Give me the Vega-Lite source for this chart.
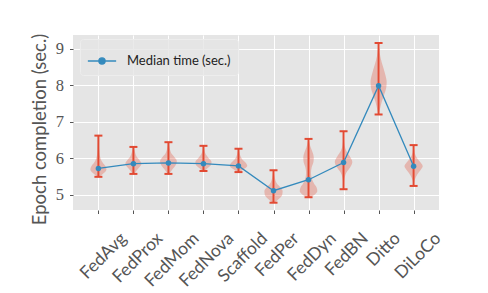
{
  "$schema": "https://vega.github.io/schema/vega-lite/v6.json",
  "width": 366,
  "height": 175,
  "autosize": {"type": "none"},
  "padding": {"left": 73, "top": 35, "right": 49, "bottom": 83},
  "background": "white",
  "config": {
    "view": {"fill": "#E5E5E5", "stroke": null},
    "axis": {
      "grid": true, "gridColor": "white", "gridWidth": 1,
      "domain": false,
      "tickColor": "#555555", "tickSize": 3.5, "tickWidth": 1,
      "labelColor": "#555555", "titleColor": "#555555"
    }
  },
  "datasets": {
    "violin": [
      {"m":0,"y":5.49,"lo":-0.02,"hi":0.02},{"m":0,"y":5.55,"lo":-0.10,"hi":0.10},{"m":0,"y":5.62,"lo":-0.19,"hi":0.19},{"m":0,"y":5.70,"lo":-0.23,"hi":0.23},{"m":0,"y":5.78,"lo":-0.20,"hi":0.20},{"m":0,"y":5.88,"lo":-0.12,"hi":0.12},{"m":0,"y":6.00,"lo":-0.06,"hi":0.06},{"m":0,"y":6.15,"lo":-0.03,"hi":0.03},{"m":0,"y":6.35,"lo":-0.015,"hi":0.015},{"m":0,"y":6.62,"lo":-0.005,"hi":0.005},
      {"m":1,"y":5.57,"lo":0.98,"hi":1.02},{"m":1,"y":5.65,"lo":0.92,"hi":1.08},{"m":1,"y":5.75,"lo":0.83,"hi":1.17},{"m":1,"y":5.85,"lo":0.77,"hi":1.23},{"m":1,"y":5.95,"lo":0.83,"hi":1.17},{"m":1,"y":6.05,"lo":0.91,"hi":1.09},{"m":1,"y":6.15,"lo":0.95,"hi":1.05},{"m":1,"y":6.31,"lo":0.99,"hi":1.01},
      {"m":2,"y":5.57,"lo":1.98,"hi":2.02},{"m":2,"y":5.68,"lo":1.90,"hi":2.10},{"m":2,"y":5.80,"lo":1.80,"hi":2.20},{"m":2,"y":5.92,"lo":1.76,"hi":2.24},{"m":2,"y":6.02,"lo":1.82,"hi":2.18},{"m":2,"y":6.12,"lo":1.91,"hi":2.09},{"m":2,"y":6.25,"lo":1.96,"hi":2.04},{"m":2,"y":6.44,"lo":1.99,"hi":2.01},
      {"m":3,"y":5.65,"lo":2.97,"hi":3.03},{"m":3,"y":5.73,"lo":2.88,"hi":3.12},{"m":3,"y":5.83,"lo":2.78,"hi":3.22},{"m":3,"y":5.90,"lo":2.77,"hi":3.23},{"m":3,"y":6.00,"lo":2.85,"hi":3.15},{"m":3,"y":6.10,"lo":2.93,"hi":3.07},{"m":3,"y":6.20,"lo":2.97,"hi":3.03},{"m":3,"y":6.34,"lo":2.99,"hi":3.01},
      {"m":4,"y":5.62,"lo":3.97,"hi":4.03},{"m":4,"y":5.70,"lo":3.86,"hi":4.14},{"m":4,"y":5.79,"lo":3.75,"hi":4.25},{"m":4,"y":5.88,"lo":3.80,"hi":4.20},{"m":4,"y":5.98,"lo":3.90,"hi":4.10},{"m":4,"y":6.10,"lo":3.96,"hi":4.04},{"m":4,"y":6.26,"lo":3.99,"hi":4.01},
      {"m":5,"y":4.78,"lo":4.97,"hi":5.03},{"m":5,"y":4.88,"lo":4.85,"hi":5.15},{"m":5,"y":5.00,"lo":4.75,"hi":5.25},{"m":5,"y":5.10,"lo":4.74,"hi":5.26},{"m":5,"y":5.20,"lo":4.80,"hi":5.20},{"m":5,"y":5.30,"lo":4.90,"hi":5.10},{"m":5,"y":5.45,"lo":4.96,"hi":5.04},{"m":5,"y":5.67,"lo":4.99,"hi":5.01},
      {"m":6,"y":4.93,"lo":5.95,"hi":6.05},{"m":6,"y":5.00,"lo":5.83,"hi":6.17},{"m":6,"y":5.10,"lo":5.75,"hi":6.25},{"m":6,"y":5.20,"lo":5.77,"hi":6.23},{"m":6,"y":5.30,"lo":5.84,"hi":6.16},{"m":6,"y":5.45,"lo":5.91,"hi":6.09},{"m":6,"y":5.60,"lo":5.93,"hi":6.07},{"m":6,"y":5.75,"lo":5.91,"hi":6.09},{"m":6,"y":5.90,"lo":5.86,"hi":6.14},{"m":6,"y":6.02,"lo":5.85,"hi":6.15},{"m":6,"y":6.15,"lo":5.88,"hi":6.12},{"m":6,"y":6.30,"lo":5.94,"hi":6.06},{"m":6,"y":6.45,"lo":5.98,"hi":6.02},{"m":6,"y":6.53,"lo":5.995,"hi":6.005},
      {"m":7,"y":5.15,"lo":6.995,"hi":7.005},{"m":7,"y":5.40,"lo":6.98,"hi":7.02},{"m":7,"y":5.60,"lo":6.92,"hi":7.08},{"m":7,"y":5.75,"lo":6.81,"hi":7.19},{"m":7,"y":5.90,"lo":6.75,"hi":7.25},{"m":7,"y":6.05,"lo":6.82,"hi":7.18},{"m":7,"y":6.20,"lo":6.92,"hi":7.08},{"m":7,"y":6.35,"lo":6.97,"hi":7.03},{"m":7,"y":6.55,"lo":6.99,"hi":7.01},{"m":7,"y":6.74,"lo":6.997,"hi":7.003},
      {"m":8,"y":7.20,"lo":7.99,"hi":8.01},{"m":8,"y":7.35,"lo":7.96,"hi":8.04},{"m":8,"y":7.55,"lo":7.91,"hi":8.09},{"m":8,"y":7.75,"lo":7.84,"hi":8.16},{"m":8,"y":7.95,"lo":7.78,"hi":8.22},{"m":8,"y":8.10,"lo":7.77,"hi":8.23},{"m":8,"y":8.30,"lo":7.81,"hi":8.19},{"m":8,"y":8.50,"lo":7.87,"hi":8.13},{"m":8,"y":8.70,"lo":7.93,"hi":8.07},{"m":8,"y":8.90,"lo":7.97,"hi":8.03},{"m":8,"y":9.16,"lo":7.995,"hi":8.005},
      {"m":9,"y":5.24,"lo":8.995,"hi":9.005},{"m":9,"y":5.40,"lo":8.97,"hi":9.03},{"m":9,"y":5.55,"lo":8.90,"hi":9.10},{"m":9,"y":5.68,"lo":8.80,"hi":9.20},{"m":9,"y":5.78,"lo":8.74,"hi":9.26},{"m":9,"y":5.88,"lo":8.80,"hi":9.20},{"m":9,"y":6.00,"lo":8.90,"hi":9.10},{"m":9,"y":6.15,"lo":8.97,"hi":9.03},{"m":9,"y":6.36,"lo":8.995,"hi":9.005}
    ],
    "stats": [
      {"m":0,"method":"FedAvg","med":5.72,"lo":5.49,"hi":6.62},
      {"m":1,"method":"FedProx","med":5.85,"lo":5.57,"hi":6.31},
      {"m":2,"method":"FedMom","med":5.87,"lo":5.57,"hi":6.44},
      {"m":3,"method":"FedNova","med":5.85,"lo":5.65,"hi":6.34},
      {"m":4,"method":"Scaffold","med":5.79,"lo":5.62,"hi":6.26},
      {"m":5,"method":"FedPer","med":5.11,"lo":4.78,"hi":5.67},
      {"m":6,"method":"FedDyn","med":5.41,"lo":4.93,"hi":6.53},
      {"m":7,"method":"FedBN","med":5.88,"lo":5.15,"hi":6.74},
      {"m":8,"method":"Ditto","med":7.99,"lo":7.20,"hi":9.16},
      {"m":9,"method":"DiLoCo","med":5.78,"lo":5.24,"hi":6.36}
    ]
  },
  "layer": [
    {
      "data": {"name": "violin"},
      "mark": {"type": "area", "orient": "horizontal", "interpolate": "monotone", "color": "#E24A33", "opacity": 0.3},
      "encoding": {
        "y": {"field": "y", "type": "quantitative", "scale": {"domain": [4.58, 9.38], "nice": false, "zero": false},
              "title": "Epoch completion (sec.)",
              "axis": {"values": [5,6,7,8,9], "labelFont": "Liberation Serif", "labelFontSize": 16.5, "labelPadding": 6,
                       "titleFont": "Lato", "titleFontSize": 18.5, "titleFontWeight": "normal", "titleX": -34, "titleY": 94, "titleAlign": "center", "titleBaseline": "middle", "titleAngle": 270}},
        "x": {"field": "lo", "type": "quantitative", "stack": null, "scale": {"domain": [-0.725, 9.725], "nice": false, "zero": false},
              "title": null,
              "axis": {"values": [0,1,2,3,4,5,6,7,8,9], "labelOverlap": false,
                       "labelExpr": "['FedAvg','FedProx','FedMom','FedNova','Scaffold','FedPer','FedDyn','FedBN','Ditto','DiLoCo'][datum.value]",
                       "labelAngle": -45, "labelAlign": "right", "labelBaseline": "middle", "labelPadding": 22,
                       "labelFont": "Lato", "labelFontSize": 17.5,
                       "labelOffset": {"condition": [
                         {"test": "datum.value==1", "value": 26.3},
                         {"test": "datum.value==2", "value": 27.5},
                         {"test": "datum.value==3", "value": 27.2},
                         {"test": "datum.value==4", "value": 25.8},
                         {"test": "datum.value==5", "value": 22.5},
                         {"test": "datum.value==6", "value": 24.5},
                         {"test": "datum.value==7", "value": 21.7},
                         {"test": "datum.value==8", "value": 18.7},
                         {"test": "datum.value==9", "value": 24.2}
                       ], "value": 25}}},
        "x2": {"field": "hi"},
        "detail": {"field": "m", "type": "nominal"}
      }
    },
    {
      "data": {"name": "stats"},
      "mark": {"type": "rule", "color": "#E24A33", "strokeWidth": 2},
      "encoding": {
        "x": {"field": "m", "type": "quantitative", "title": null},
        "y": {"field": "lo", "type": "quantitative", "title": "Epoch completion (sec.)"},
        "y2": {"field": "hi"}
      }
    },
    {
      "data": {"name": "stats"},
      "mark": {"type": "tick", "orient": "horizontal", "color": "#E24A33", "size": 8, "thickness": 2, "opacity": 1},
      "encoding": {
        "x": {"field": "m", "type": "quantitative", "title": null},
        "y": {"field": "lo", "type": "quantitative", "title": "Epoch completion (sec.)"}
      }
    },
    {
      "data": {"name": "stats"},
      "mark": {"type": "tick", "orient": "horizontal", "color": "#E24A33", "size": 8, "thickness": 2, "opacity": 1},
      "encoding": {
        "x": {"field": "m", "type": "quantitative", "title": null},
        "y": {"field": "hi", "type": "quantitative", "title": "Epoch completion (sec.)"}
      }
    },
    {
      "data": {"name": "stats"},
      "mark": {"type": "line", "strokeWidth": 1.3},
      "encoding": {
        "x": {"field": "m", "type": "quantitative", "title": null},
        "y": {"field": "med", "type": "quantitative", "title": "Epoch completion (sec.)"},
        "color": {"datum": "Median time (sec.)", "type": "nominal",
                  "scale": {"range": ["#348ABD"]},
                  "legend": {"title": null, "orient": "none", "legendX": 7, "legendY": 4,
                             "symbolType": "M-1,0L1,0M-0.22,0A0.22,0.22,0,1,1,0.22,0A0.22,0.22,0,1,1,-0.22,0Z",
                             "symbolSize": 800, "symbolStrokeWidth": 1.3, "symbolFillColor": "#348ABD", "symbolStrokeColor": "#348ABD",
                             "labelFont": "Lato", "labelFontSize": 13, "labelColor": "#222222", "labelOffset": 10,
                             "padding": 7, "fillColor": "rgba(229,229,229,0.8)", "strokeColor": "#EDEDED", "cornerRadius": 3}}
      }
    },
    {
      "data": {"name": "stats"},
      "mark": {"type": "point", "filled": true, "size": 30, "color": "#348ABD", "opacity": 1},
      "encoding": {
        "x": {"field": "m", "type": "quantitative", "title": null},
        "y": {"field": "med", "type": "quantitative", "title": "Epoch completion (sec.)"}
      }
    }
  ]
}
